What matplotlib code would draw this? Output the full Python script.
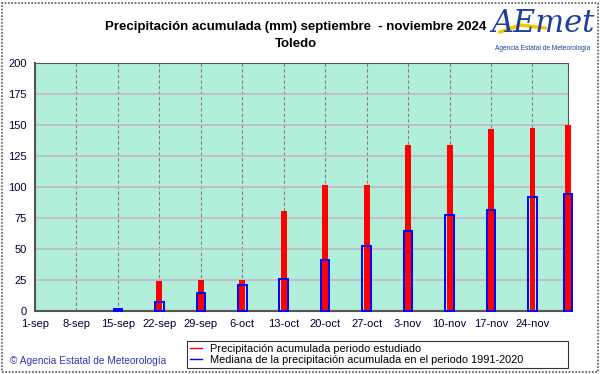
#!/usr/bin/env python3
"""Precipitacion acumulada septiembre - noviembre 2024, Toledo"""

import matplotlib
matplotlib.use("Agg")
import matplotlib.pyplot as plt
from matplotlib.lines import Line2D
from matplotlib.patches import Rectangle

plt.rcParams['font.family'] = ['Liberation Sans', 'DejaVu Sans']

# days since 1-sep for each weekly bar (last one is 30-nov)
days = [0, 7, 14, 21, 28, 35, 42, 49, 56, 63, 70, 77, 84, 90]
tick_labels = ['1-sep', '8-sep', '15-sep', '22-sep', '29-sep', '6-oct', '13-oct',
               '20-oct', '27-oct', '3-nov', '10-nov', '17-nov', '24-nov']
precip_2024 = [0, 0, 0, 24.2, 24.7, 24.7, 80.6, 101.3, 101.8, 133.9, 133.9, 146.5, 147.3, 150.3]
median_1991_2020 = [0, 0, 1.9, 7.0, 14.3, 20.7, 25.5, 40.9, 52.4, 64.8, 77.7, 81.7, 91.7, 94.6]

fig = plt.figure(figsize=(6.01, 3.74), dpi=100)
W, H = 601, 374
ax = fig.add_axes([35 / W, 63 / H, 533 / W, 248 / H])

# plot background and grid
ax.set_facecolor('#b2efda')
ax.set_xlim(0, 90)
ax.set_ylim(0, 200)
ax.set_yticks(range(0, 201, 25))
ax.set_xticks(days[:-1])
ax.set_xticklabels(tick_labels)
ax.yaxis.grid(True, color='#c4b4cc', lw=1.2)
ax.xaxis.grid(True, color='#808080', lw=0.8, ls=(0, (3, 2)))
ax.set_axisbelow(True)
ax.tick_params(length=0, labelsize=8, colors='#000033', pad=6)
for side in ['left', 'bottom', 'right', 'top']:
    ax.spines[side].set_color('#555555')
ax.spines['left'].set_linewidth(1.5)
ax.spines['bottom'].set_linewidth(1.5)

# bars (weeks without rain draw nothing)
red = [(d, v) for d, v in zip(days, precip_2024) if v > 0]
blue = [(d, v) for d, v in zip(days, median_1991_2020) if v > 0]
ax.bar([d for d, v in red], [v for d, v in red], width=1.0, color='#ff0000',
       zorder=3, clip_on=False)
ax.bar([d for d, v in blue], [v for d, v in blue], width=1.45, facecolor='none',
       edgecolor='#0000ff', lw=1.4, zorder=4, clip_on=False)

# titles
fig.text(296 / W, 1 - 27 / H, 'Precipitación acumulada (mm) septiembre  - noviembre 2024',
         ha='center', va='center', fontsize=9.5, fontweight='bold')
fig.text(296 / W, 1 - 44 / H, 'Toledo', ha='center', va='center',
         fontsize=9.5, fontweight='bold')

# logo
fig.text(543 / W, 1 - 24 / H, 'AEmet', ha='center', va='center', fontsize=22,
         style='italic', color='#1f3f9f', family='DejaVu Serif')
fig.add_artist(Line2D([500 / W, 520 / W, 545 / W], [1 - 32 / H, 1 - 25 / H, 1 - 28 / H],
                      color='#f5c800', lw=2.5))
fig.text(543 / W, 1 - 48 / H, 'Agencia Estatal de Meteorología', ha='center',
         va='center', fontsize=4.8, color='#1f3f9f')

# legend
handles = [Line2D([], [], color='#ff0000', lw=1),
           Line2D([], [], color='#0000ff', lw=1)]
leg = fig.legend(handles, ['Precipitación acumulada periodo estudiado',
                           'Mediana de la precipitación acumulada en el periodo 1991-2020'],
                 loc='lower left', mode='expand',
                 bbox_to_anchor=(187 / W, 1 - 368 / H, 381 / W, 30 / H),
                 fontsize=7.9, frameon=True, fancybox=False, handlelength=1.1,
                 handletextpad=0.7, borderpad=0.3, labelspacing=0.05, borderaxespad=0)
leg.get_frame().set_edgecolor('#000000')
leg.get_frame().set_linewidth(0.8)

# footer
fig.text(10 / W, 1 - 361 / H, '© Agencia Estatal de Meteorología', ha='left', va='center',
         fontsize=7.3, color='#3333bb')

# outer frame
fig.add_artist(Rectangle((2 / W, 2 / H), 596 / W, 369 / H, transform=fig.transFigure,
                         fill=False, edgecolor='#555555', lw=1.2, ls=(0, (1, 1))))

fig.savefig('out.png', dpi=100)
